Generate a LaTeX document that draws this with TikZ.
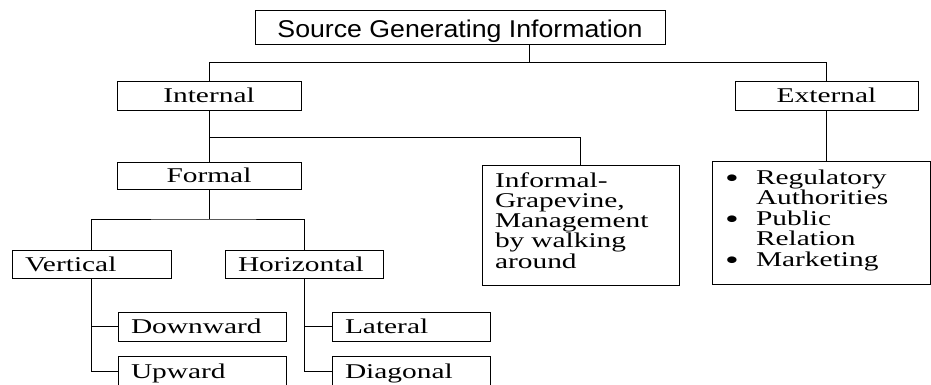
\documentclass[tikz,border=0pt]{standalone}
\usepackage{fontspec}
\newfontfamily\bodyfont[FakeStretch=1.4]{Liberation Serif}
\newfontfamily\headfont[FakeStretch=1.1]{Liberation Sans}
\newcommand{\bigbul}{\raisebox{-2.5pt}{\fontsize{21pt}{15pt}\selectfont\textbullet}}
\begin{document}
\begin{tikzpicture}[x=0.75pt,y=-0.75pt,
  box/.style={draw, line width=0.75pt, inner ysep=0pt,
    font=\bodyfont\fontsize{15.75pt}{15pt}\selectfont,
    text height=13.5pt, text depth=3pt},
  lbox/.style={box, align=left, inner xsep=9.75pt},
  conn/.style={line width=0.75pt}]
\fill[white] (0,0) rectangle (931,385);
\useasboundingbox (0,0) rectangle (931,385);

\node[box, font=\headfont\fontsize{18.2pt}{20pt}\selectfont,
  minimum width=307.5pt, minimum height=25.5pt,
  text height=18pt, text depth=3.75pt] (title) at (460,28) {Source Generating Information};

\node[box, minimum width=138pt, minimum height=21pt] (internal) at (209,96) {Internal};
\node[box, minimum width=137.25pt, minimum height=21pt] (external) at (826.5,96) {External};
\node[box, minimum width=138pt, minimum height=20.25pt] (formal) at (209,175.5) {Formal};

\node[lbox, text width=128.25pt, minimum height=90pt,
  text height=10.5pt, text depth=67.5pt] (informal) at (580.5,225)
  {\begin{tabular}[t]{@{}l@{}}Informal-\\Grapevine,\\Management\\by walking\\around\end{tabular}};

\node[lbox, text width=144pt, minimum height=92.25pt,
  text height=10.5pt, text depth=68.25pt] (extlist) at (821,222.5)
  {\begin{tabular}[t]{@{}p{23.25pt}@{}l@{}}\bigbul&Regulatory\\&Authorities\\\bigbul&Public\\&Relation\\\bigbul&Marketing\end{tabular}};

\node[lbox, text width=99.75pt, minimum height=21pt] (vertical) at (91.5,264) {Vertical};
\node[lbox, text width=99pt, minimum height=21pt] (horizontal) at (304,264) {Horizontal};
\node[lbox, text width=106.5pt, minimum height=21.75pt] (downward) at (202,326.5) {Downward};
\node[lbox, text width=106.5pt, minimum height=23.25pt] (upward) at (202,371.5) {Upward};
\node[lbox, text width=99pt, minimum height=21.75pt] (lateral) at (411,326.5) {Lateral};
\node[lbox, text width=99pt, minimum height=23.25pt] (diagonal) at (411,371.5) {Diagonal};

\coordinate (bus) at (529,63);
\coordinate (mid) at (210,137);
\coordinate (fj) at (209,219);

\draw[conn] (title.south -| bus) -- (bus);
\draw[conn] (internal.north) -- (internal.north |- bus) -- (external.north |- bus) -- (external.north);
\draw[conn] (internal) -- (formal);
\draw[conn] (internal.south |- mid) -| (informal.north);
\draw[conn] (external.south) -- (external.south |- extlist.north);
\draw[conn] (formal.south) -- (fj);
\draw[conn] (vertical.north) |- (fj) -| (horizontal.north);
\draw[conn] (vertical.south) |- (upward.west);
\draw[conn] (vertical.south |- downward.west) -- (downward.west);
\draw[conn] (horizontal.south) |- (diagonal.west);
\draw[conn] (horizontal.south |- lateral.west) -- (lateral.west);
\end{tikzpicture}
\end{document}
